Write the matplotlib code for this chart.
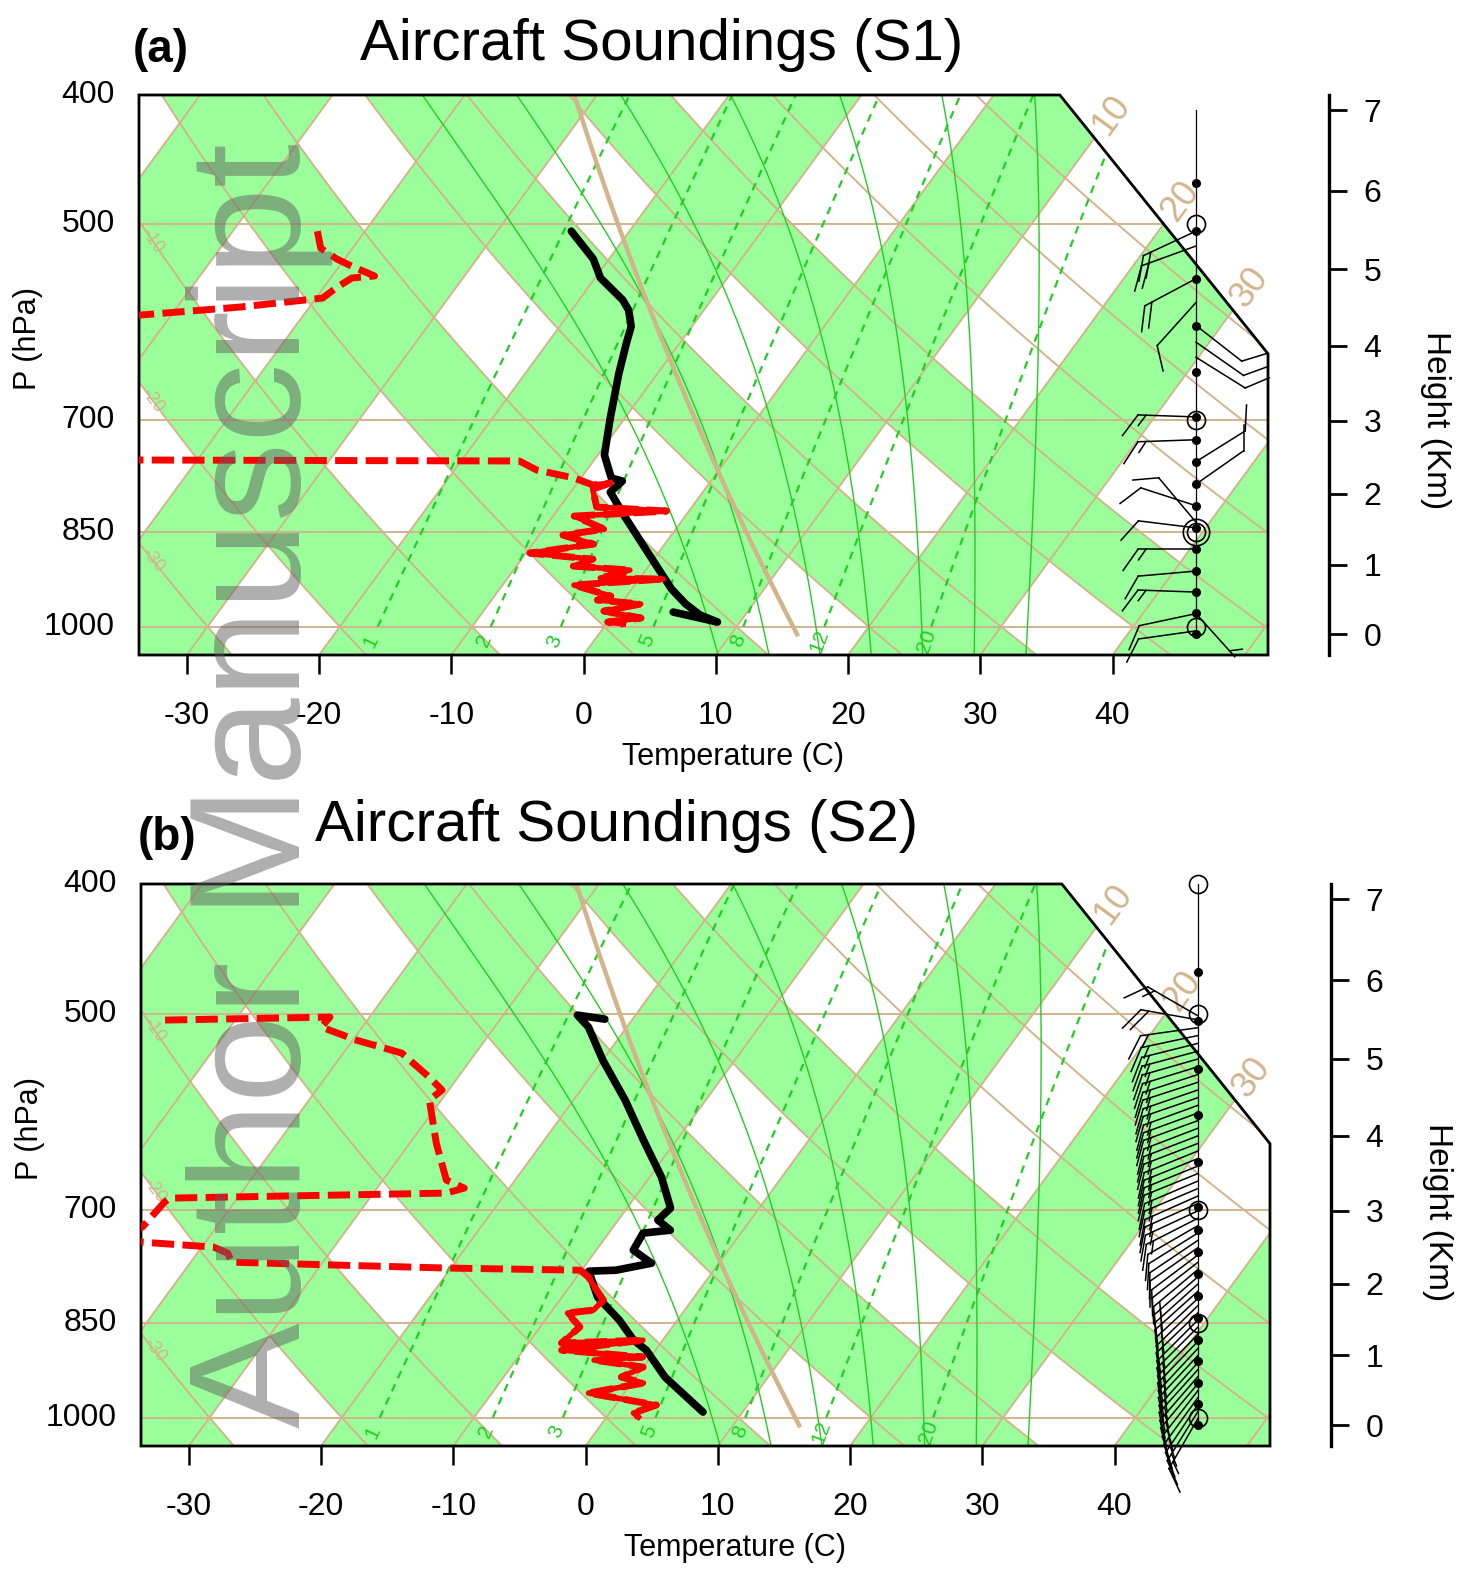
import numpy as np
import matplotlib
matplotlib.use("Agg")
import matplotlib.pyplot as plt
from matplotlib.patches import Polygon
from matplotlib.colors import ListedColormap

plt.rcParams['font.family'] = ['Liberation Sans', 'DejaVu Sans']

W, H = 1461, 1571

# ---------------- sounding S1 (panel a) ----------------
# temperature (black): pressure hPa, temperature C
p_t_s1 = [505.8, 530.6, 548.3, 569.5, 579.4, 596.0, 614.4, 647.1, 698.1, 743.9,
          774.0, 778.0, 793.0, 829.2, 862.9, 900.8, 937.2, 961.7, 980.1, 992.0, 975.1]
t_s1 = [-24.4, -21.2, -19.6, -16.7, -15.7, -14.6, -14.0, -12.9, -11.1, -9.5,
        -7.7, -6.7, -7.0, -4.4, -2.0, 0.6, 3.0, 4.9, 6.6, 8.3, 4.4]
# dew point (red)
p_td_s1 = [505.8, 520.9, 530.6, 537.1, 546.4, 548.3, 556.9, 567.6, 576.4, 584.4, 600.0,
           749.0, 751.6, 763.3, 774.0, 783.4, 780.7, 789.0, 813.7, 819.3, 826.5, 845.2,
           854.0, 867.3, 880.9, 890.1, 900.8, 907.1, 919.6, 921.2, 930.8, 948.6, 955.1,
           961.7, 973.4, 985.2, 992.0, 995.5]
td_s1 = [-43.6, -42.4, -40.6, -39.1, -36.8, -38.4, -39.0, -39.5, -45.2, -52.3, -68.0,
         -75.0, -15.6, -13.8, -10.5, -8.7, -7.5, -8.5, -7.2, -1.7, -8.4, -5.4,
         -8.2, -5.4, -9.7, -4.6, -5.7, -1.2, -3.0, 1.8, -4.6, -1.2, -2.0,
         1.5, -0.9, 2.3, 0.0, 1.3]
# winds: height km, direction deg, speed kt
wh_s1 = [5.49, 5.30, 4.88, 4.57, 4.27, 4.05, 3.85, 3.05, 2.74, 2.44, 2.13, 1.83,
         1.60, 1.52, 1.22, 0.91, 0.61, 0.30, 0.30, 0.05]
wd_s1 = [245, 250, 242, 222, 128, 125, 122, 272, 268, 58, 55, 288,
         320, 277, 270, 265, 272, 258, 138, 262]
ws_s1 = [20, 20, 20, 10, 10, 10, 10, 15, 15, 10, 10, 10,
         10, 10, 15, 10, 15, 10, 5, 10]

# ---------------- sounding S2 (panel b) ----------------
p_t_s2 = [504.5, 501.0, 511.4, 541.2, 579.7, 621.0, 661.7, 697.9, 712.4, 724.8, 728.5,
          750.1, 767.1, 776.4, 777.7, 813.2, 845.8, 875.6, 890.6, 932.8, 990.5]
t_s2 = [-22.1, -24.4, -22.9, -20.0, -16.1, -12.5, -9.1, -6.7, -7.0, -5.5, -7.4,
        -7.2, -5.1, -7.4, -9.4, -7.3, -4.4, -2.2, -0.7, 2.2, 7.0]
p_td_s2 = [505.3, 502.7, 511.4, 523.1, 534.7, 557.2, 569.8, 579.7, 624.2, 665.1, 674.3,
           680.1, 686.0, 690.7, 721.0, 730.0, 740.0, 746.2, 754.0, 765.8, 773.5, 776.4,
           785.6, 799.2, 817.3, 831.4, 835.7, 855.9, 879.9, 875.6, 890.6, 901.2, 906.0,
           917.0, 932.8, 942.4, 958.8, 978.7, 992.2, 999.1]
td_s2 = [-55.3, -43.0, -43.1, -39.7, -35.6, -32.2, -30.5, -30.9, -28.0, -25.2, -23.4,
         -24.5, -45.1, -45.3, -45.6, -48.0, -44.7, -39.1, -37.7, -36.9, -20.4, -10.1,
         -9.1, -8.1, -6.7, -6.9, -8.7, -7.0, -7.5, -1.5, -7.1, -0.6, -4.1,
         0.0, -1.1, 0.9, -2.7, 3.1, 1.8, 2.4]
wh_s2 = [5.55, 5.50, 5.40, 5.30, 5.20, 5.10, 5.00, 4.90, 4.80, 4.70, 4.60, 4.50, 4.40,
         4.30, 4.20, 4.10, 4.00, 3.90, 3.80, 3.70, 3.60, 3.50, 3.40, 3.30, 3.20, 3.10,
         3.00, 2.90, 2.80, 2.70, 2.60, 2.50, 2.40, 2.30, 2.20, 2.10, 2.00, 1.90, 1.80,
         1.70, 1.60, 1.50, 1.40, 1.30, 1.20, 1.10, 1.00, 0.90, 0.80, 0.70, 0.60, 0.50,
         0.40, 0.30, 0.20, 0.10]
wd_s2 = [300, 280, 262, 258, 256, 255, 254, 253, 252, 252, 251, 251, 250,
         250, 250, 249, 249, 249, 248, 248, 248, 248, 247, 247, 246, 246,
         245, 243, 240, 238, 236, 235, 233, 232, 230, 229, 228, 228, 227,
         226, 226, 225, 225, 224, 224, 223, 223, 222, 222, 221, 220, 218,
         216, 214, 212, 210]
ws_s2 = [15, 20, 15, 15, 15, 15, 15, 15, 15, 15, 15, 15, 15,
         15, 15, 15, 15, 15, 15, 15, 15, 15, 15, 15, 15, 15,
         15, 15, 10, 10, 10, 10, 10, 10, 15, 15, 15, 15, 15,
         15, 15, 15, 15, 15, 15, 15, 15, 15, 15, 15, 15, 15,
         15, 15, 15, 15]

# ---------------- diagram furniture ----------------
isotherms = np.arange(-100, 60, 10)
dry_theta = np.arange(-40, 170, 10)
moist_thw = [8, 12, 16, 20, 24, 28, 32]
mix_w = [1, 2, 3, 5, 8, 12, 20]
isobars = [1000, 850, 700, 500]
temp_ticks = [-30, -20, -10, 0, 10, 20, 30, 40]
press_labels = [400, 500, 700, 850, 1000]
height_ticks = [0, 1, 2, 3, 4, 5, 6, 7]
dot_kft = [0, 1, 2, 3, 4, 5, 6, 7, 8, 9, 10, 12, 14, 16, 18, 20]

TAN = '#d2b48c'
GREEN_FILL = '#9aff9a'
GREEN_LINE = '#22cc22'


def sky(p):
    return 132.182 - 44.061 * np.log10(p)


def skx(t, p):
    return 0.54 * np.asarray(t, float) + 0.90692 * sky(p)


def p_std(z_km):
    return 1013.25 * (1 - 0.0065 * np.asarray(z_km, float) * 1000 / 288.15) ** 5.2559


def td_mix(w, p):
    e = w * p / (622.0 + w)
    a = np.log(e / 6.112)
    return 243.5 * a / (17.67 - a)


def moist_adiabat(thw):
    Rd, cp, Lv, eps = 287.04, 1005.7, 2.501e6, 0.622

    def rate(T, lnp):
        p = np.exp(lnp)
        es = 6.112 * np.exp(17.67 * (T - 273.15) / (T - 29.65))
        rs = eps * es / (p - es)
        return (Rd * T + Lv * rs) / (cp + Lv * Lv * rs * eps / (Rd * T * T))

    parts = []
    for stop in (np.log(1050.), np.log(400.)):
        lnp, T = np.log(1000.), thw + 273.15
        h = (stop - lnp) / 150
        ps, ts = [1000.], [T]
        for _ in range(150):
            k1 = rate(T, lnp)
            k2 = rate(T + 0.5 * h * k1, lnp + 0.5 * h)
            T += h * k2
            lnp += h
            ps.append(np.exp(lnp))
            ts.append(T)
        parts.append((np.array(ps), np.array(ts) - 273.15))
    p = np.concatenate([parts[0][0][::-1], parts[1][0][1:]])
    t = np.concatenate([parts[0][1][::-1], parts[1][1][1:]])
    return p, t


def angle_of(ax, x0, y0, x1, y1):
    a = ax.transData.transform([(x0, y0), (x1, y1)])
    return np.degrees(np.arctan2(a[1, 1] - a[0, 1], a[1, 0] - a[0, 0]))


def draw_barbs(ax, xs, hs, dirs, spds, staff=58.0, feather=26.0, step=8.0):
    # barbs built in pixel space, staff pointing where the wind comes from
    to_data = ax.transData.inverted()
    for h, d, s in zip(hs, dirs, spds):
        bx, by = ax.transData.transform((xs, sky(p_std(h))))
        a = np.radians(d)
        ux, uy = np.sin(a), np.cos(a)
        ex, ey = bx + staff * ux, by + staff * uy
        fa = np.arctan2(uy, ux) + np.radians(55)
        fx, fy = np.cos(fa), np.sin(fa)
        segs = [[(bx, by), (ex, ey)]]
        pos = 0.0
        for _ in range(int(s // 10)):
            px, py = ex - pos * ux, ey - pos * uy
            segs.append([(px, py), (px + feather * fx, py + feather * fy)])
            pos += step
        if s % 10 >= 5:
            pos = max(pos, step)
            px, py = ex - pos * ux, ey - pos * uy
            segs.append([(px, py), (px + 0.5 * feather * fx, py + 0.5 * feather * fy)])
        for sg in segs:
            dd = to_data.transform(sg)
            ax.plot(dd[:, 0], dd[:, 1], color='black', lw=1.1, clip_on=False, zorder=7)


def draw_panel(rect, hx, p_t, t, p_td, td, solid_below, wh, wd, ws, circles, staff_top,
               double850, tag, tag_xy, title, title_xy, plab_xy, tlab_xy, hlab_xy):
    left, top, width, height = rect
    ax = fig.add_axes([left / W, 1 - (top + height) / H, width / W, height / H])
    ybot, ytop = sky(1050.), sky(400.)
    ax.set_xlim(-19, 27.1)
    ax.set_ylim(ybot, ytop)
    for s in ax.spines.values():
        s.set_visible(False)
    ax.patch.set_visible(False)

    verts = [(-19, ybot), (27.1, ybot), (27.1, 9.0), (18.6, ytop), (-19, ytop)]
    clip = Polygon(verts, closed=True, transform=ax.transData)

    # alternate shading of isotherm bands and of the lower dry adiabat bands
    xg = np.linspace(-19, 27.1, 1300)
    yg = np.linspace(ybot, ytop, 700)
    X, Y = np.meshgrid(xg, yg)
    P = 10 ** ((132.182 - Y) / 44.061)
    T = (X - 0.90692 * Y) / 0.54
    TH = (T + 273.15) * (1000 / P) ** 0.2857 - 273.15
    green = (np.floor(T / 10) % 2 == 0) | ((np.floor(TH / 10) % 2 == 0) & (TH < 60))
    im = ax.imshow(green.astype(float), extent=(-19, 27.1, ybot, ytop), origin='lower',
                   cmap=ListedColormap(['white', GREEN_FILL]), vmin=0, vmax=1,
                   interpolation='nearest', aspect='auto', zorder=0)
    im.set_clip_path(clip)

    pp = np.geomspace(1050, 400, 120)
    for ti in isotherms:
        ln, = ax.plot(skx(ti, pp), sky(pp), color=TAN, lw=1.4, zorder=2)
        ln.set_clip_path(clip)
    for th in dry_theta:
        tt = (th + 273.15) * (pp / 1000) ** 0.2857 - 273.15
        ln, = ax.plot(skx(tt, pp), sky(pp), color=TAN, lw=1.4, zorder=2)
        ln.set_clip_path(clip)
    for pb in isobars:
        ln, = ax.plot([-19, 27.1], [sky(pb), sky(pb)], color=TAN, lw=1.4, zorder=2)
        ln.set_clip_path(clip)
    for thw in moist_thw:
        pm, tm = moist_adiabat(thw)
        ln, = ax.plot(skx(tm, pm), sky(pm), color=GREEN_LINE, lw=1.0, zorder=2)
        ln.set_clip_path(clip)
    pw = np.geomspace(1000, 400, 60)
    for w in mix_w:
        ln, = ax.plot(skx(td_mix(w, pw), pw), sky(pw), color=GREEN_LINE, lw=1.6,
                      dashes=(3.5, 3.0), zorder=2)
        ln.set_clip_path(clip)
        x0, y0 = skx(td_mix(w, 1025.), 1025.), sky(1025.)
        x1, y1 = skx(td_mix(w, 1000.), 1000.), sky(1000.)
        ax.text(x0, y0, str(w), color=GREEN_LINE, fontsize=15, ha='center', va='center',
                rotation=angle_of(ax, x0, y0, x1, y1), rotation_mode='anchor', zorder=3)

    # standard atmosphere
    zz = np.linspace(0, 7.5, 60)
    ln, = ax.plot(skx(15 - 6.5 * zz, p_std(zz)), sky(p_std(zz)), color=TAN, lw=3.2, zorder=3)
    ln.set_clip_path(clip)

    # dry adiabat labels on the left edge
    pl = np.geomspace(400, 1050, 400)
    for th in (-10, -20, -30):
        tt = (th + 273.15) * (pl / 1000) ** 0.2857 - 273.15
        xx = skx(tt, pl)
        p0 = np.interp(-18.45, xx, pl)
        t0 = (th + 273.15) * (p0 / 1000) ** 0.2857 - 273.15
        p1 = p0 * 1.03
        t1 = (th + 273.15) * (p1 / 1000) ** 0.2857 - 273.15
        x0, y0 = skx(t0, p0), sky(p0)
        ax.text(x0, y0, str(th), color=TAN, fontsize=13, ha='center', va='center',
                rotation=angle_of(ax, x0, y0, skx(t1, p1), sky(p1)), rotation_mode='anchor',
                zorder=3)
    # isotherm labels beyond the slanted edge
    k = 8.5 / (ytop - 9.0)
    for ti in (10, 20, 30):
        yi = (18.6 + ytop * k - 0.54 * ti) / (0.90692 + k) + 0.75
        xi = 0.54 * ti + 0.90692 * yi
        ax.text(xi, yi, str(ti), color=TAN, fontsize=26, ha='center', va='center',
                rotation=angle_of(ax, xi, yi, xi + 0.90692, yi + 1), rotation_mode='anchor',
                clip_on=False, zorder=3)

    ax.add_patch(Polygon(verts, closed=True, fill=False, ec='black', lw=2.0, zorder=5,
                         clip_on=False))

    # soundings
    ax.plot(skx(t, p_t), sky(np.array(p_t)), color='black', lw=5.5, zorder=6,
            solid_joinstyle='round', solid_capstyle='round')
    ax.plot(skx(td, p_td), sky(np.array(p_td)), color='red', lw=5.0, zorder=6,
            dashes=(3.2, 1.2))
    pa, ta = np.array(p_td), np.array(td)
    lo = pa >= solid_below
    ax.plot(skx(ta[lo], pa[lo]), sky(pa[lo]), color='red', lw=4.0, zorder=6,
            solid_joinstyle='round')

    # winds
    xs = 24.16
    ax.plot([xs, xs], [sky(1013.25), sky(staff_top)], color='black', lw=0.9,
            clip_on=False, zorder=7)
    zd = np.array(dot_kft) * 0.3048
    ax.plot(np.full(len(zd), xs), sky(p_std(zd)), 'o', color='black', ms=5.5,
            clip_on=False, zorder=8)
    ax.plot(np.full(len(circles), xs), sky(np.array(circles, float)), 'o', mfc='none',
            mec='black', mew=1.2, ms=13, clip_on=False, zorder=8)
    if double850:
        ax.plot([xs], [sky(850.)], 'o', mfc='none', mec='black', mew=1.2, ms=19,
                clip_on=False, zorder=8)
    draw_barbs(ax, xs, wh, wd, ws)

    # axes labelling
    ax.set_yticks([])
    ax.set_xticks(skx(temp_ticks, 1050.))
    ax.set_xticklabels([str(v) for v in temp_ticks])
    ax.tick_params(axis='x', direction='out', length=14, width=1.8, pad=19, labelsize=23)
    for pv in press_labels:
        ax.text(-20.0, sky(pv), str(pv), ha='right', va='center', fontsize=23)

    axh = fig.add_axes([(hx - 12) / W, 1 - (top + height) / H, 12 / W, height / H])
    axh.set_ylim(ybot, ytop)
    for s in ('left', 'top', 'bottom'):
        axh.spines[s].set_visible(False)
    axh.spines['right'].set_linewidth(2.4)
    axh.patch.set_visible(False)
    axh.set_xticks([])
    axh.yaxis.tick_right()
    axh.set_yticks(sky(p_std(height_ticks)))
    axh.set_yticklabels([str(h) for h in height_ticks])
    axh.tick_params(axis='y', direction='out', length=13, width=2.0, pad=12, labelsize=23)

    fig.text(tag_xy[0] / W, 1 - tag_xy[1] / H, tag, fontsize=33, fontweight='bold',
             ha='center', va='center')
    fig.text(title_xy[0] / W, 1 - title_xy[1] / H, title, fontsize=42,
             ha='center', va='center')
    fig.text(plab_xy[0] / W, 1 - plab_xy[1] / H, 'P (hPa)', fontsize=22, rotation=90,
             ha='center', va='center')
    fig.text(tlab_xy[0] / W, 1 - tlab_xy[1] / H, 'Temperature (C)', fontsize=22,
             ha='center', va='center')
    fig.text(hlab_xy[0] / W, 1 - hlab_xy[1] / H, 'Height (Km)', fontsize=24, rotation=-90,
             ha='center', va='center')


fig = plt.figure(figsize=(W / 100, H / 100), dpi=100)

draw_panel((139, 95, 1129, 560), 1329, p_t_s1, t_s1, p_td_s1, td_s1, 775.0,
           wh_s1, wd_s1, ws_s1, [500, 700, 850, 1000], p_std(7.0), True,
           '(a)', (161, 50), 'Aircraft Soundings (S1)', (662, 45),
           (28, 338), (733, 757), (1435, 420))
draw_panel((141, 884, 1129, 562), 1331, p_t_s2, t_s2, p_td_s2, td_s2, 777.0,
           wh_s2, wd_s2, ws_s2, [400, 500, 700, 850, 1000], 400.0, False,
           '(b)', (167, 838), 'Aircraft Soundings (S2)', (617, 826),
           (30, 1128), (735, 1548), (1437, 1212))

fig.text(260 / W, 1 - 785 / H, 'Author Manuscript', rotation=90, fontsize=114,
         color='#606060', alpha=0.5, ha='center', va='center', zorder=20)

fig.savefig('out.png', dpi=100)
